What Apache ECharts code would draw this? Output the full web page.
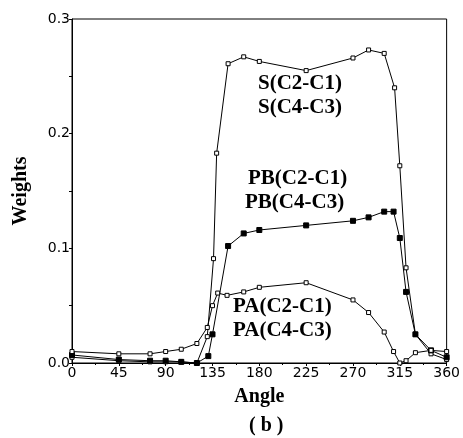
<!DOCTYPE html>
<html>
<head>
<meta charset="utf-8">
<script src="https://cdn.jsdelivr.net/npm/echarts@6/dist/echarts.min.js"></script>
<style>
  html, body { margin: 0; padding: 0; background: #fff; }
  #chart { width: 463px; height: 438px; }
</style>
</head>
<body>
<div id="chart"></div>
<script>
// angles (deg) and weights
var sAngles = [0, 45, 75, 90, 105, 120, 130, 136, 139, 150, 165, 180, 225, 270, 285, 300, 310, 315, 321, 330, 345, 360];
var sValues = [0.005, 0.002, 0.001, 0.001, 0.001, 0, 0.023, 0.091, 0.183, 0.261, 0.267, 0.263, 0.255, 0.266, 0.273, 0.270, 0.240, 0.172, 0.083, 0.025, 0.008, 0.003];

var pbAngles = [0, 45, 75, 90, 105, 120, 131, 135, 150, 165, 180, 225, 270, 285, 300, 309, 315, 321, 330, 345, 360];
var pbValues = [0.007, 0.003, 0.002, 0.002, 0.001, 0, 0.006, 0.025, 0.102, 0.113, 0.116, 0.120, 0.124, 0.127, 0.132, 0.132, 0.109, 0.062, 0.025, 0.011, 0.005];

var paAngles = [0, 45, 75, 90, 105, 120, 130, 135, 140, 149, 165, 180, 225, 270, 285, 300, 309, 315, 321, 330, 345, 360];
var paValues = [0.010, 0.008, 0.008, 0.010, 0.012, 0.017, 0.031, 0.050, 0.061, 0.059, 0.062, 0.066, 0.070, 0.055, 0.044, 0.027, 0.010, 0, 0.002, 0.009, 0.011, 0.010];

var xTicks = [0, 45, 90, 135, 180, 225, 270, 315, 360];
var yTicks = [0, 0.1, 0.2, 0.3];

function pairs(xs, ys) {
    return xs.map(function (x, i) { return [x, ys[i]]; });
}

var chart = echarts.init(document.getElementById("chart"));
var serifBold = { fontFamily: "Liberation Serif", fontWeight: "bold", fontSize: 21, fill: "#000" };

var option = {
    animation: false,
    backgroundColor: "#fff",
    grid: {
        left: 72, right: 14, top: 19, bottom: 75,
        show: true, borderColor: "#000", borderWidth: 1
    },
    xAxis: {
        type: "value",
        min: xTicks[0], max: xTicks[xTicks.length - 1], interval: 45,
        name: "Angle", nameLocation: "middle", nameGap: 24,
        nameTextStyle: { fontFamily: "Liberation Serif", fontWeight: "bold", fontSize: 20, color: "#000" },
        axisLine: { lineStyle: { color: "#000", width: 1 } },
        axisTick: { show: true, length: 3, lineStyle: { color: "#000" } },
        minorTick: { show: true, splitNumber: 2, length: 2, lineStyle: { color: "#000" } },
        axisLabel: { color: "#000", fontFamily: "DejaVu Sans", fontSize: 14, margin: 3 },
        splitLine: { show: false }
    },
    yAxis: {
        type: "value",
        min: yTicks[0], max: yTicks[yTicks.length - 1], interval: 0.1,
        name: "Weights", nameLocation: "middle", nameGap: 41,
        nameTextStyle: { fontFamily: "Liberation Serif", fontWeight: "bold", fontSize: 20, color: "#000" },
        axisLine: { lineStyle: { color: "#000", width: 1 } },
        axisTick: { show: true, length: 3, lineStyle: { color: "#000" } },
        minorTick: { show: true, splitNumber: 2, length: 3, lineStyle: { color: "#000" } },
        axisLabel: {
            color: "#000", fontFamily: "DejaVu Sans", fontSize: 14, margin: 2,
            formatter: function (v) { return v.toFixed(1); }
        },
        splitLine: { show: false }
    },
    series: [
        {
            name: "S", type: "line", data: pairs(sAngles, sValues),
            symbol: "rect", symbolSize: 4,
            lineStyle: { color: "#000", width: 1 },
            itemStyle: { color: "#fff", borderColor: "#000", borderWidth: 1 }
        },
        {
            name: "PB", type: "line", data: pairs(pbAngles, pbValues),
            symbol: "rect", symbolSize: 5,
            lineStyle: { color: "#000", width: 1 },
            itemStyle: { color: "#000", borderColor: "#000", borderWidth: 1 }
        },
        {
            name: "PA", type: "line", data: pairs(paAngles, paValues),
            symbol: "rect", symbolSize: 4,
            lineStyle: { color: "#000", width: 1 },
            itemStyle: { color: "#fff", borderColor: "#000", borderWidth: 1 }
        }
    ],
    graphic: [
        { type: "text", left: 258, top: 73, style: Object.assign({ text: "S(C2-C1)" }, serifBold) },
        { type: "text", left: 258, top: 97, style: Object.assign({ text: "S(C4-C3)" }, serifBold) },
        { type: "text", left: 248, top: 168, style: Object.assign({ text: "PB(C2-C1)" }, serifBold) },
        { type: "text", left: 245, top: 192, style: Object.assign({ text: "PB(C4-C3)" }, serifBold) },
        { type: "text", left: 233, top: 296, style: Object.assign({ text: "PA(C2-C1)" }, serifBold) },
        { type: "text", left: 233, top: 320, style: Object.assign({ text: "PA(C4-C3)" }, serifBold) },
        { type: "text", left: 249, top: 416, style: Object.assign({ text: "( b )" }, serifBold, { fontSize: 20 }) }
    ]
};
chart.setOption(option);
</script>
</body>
</html>
